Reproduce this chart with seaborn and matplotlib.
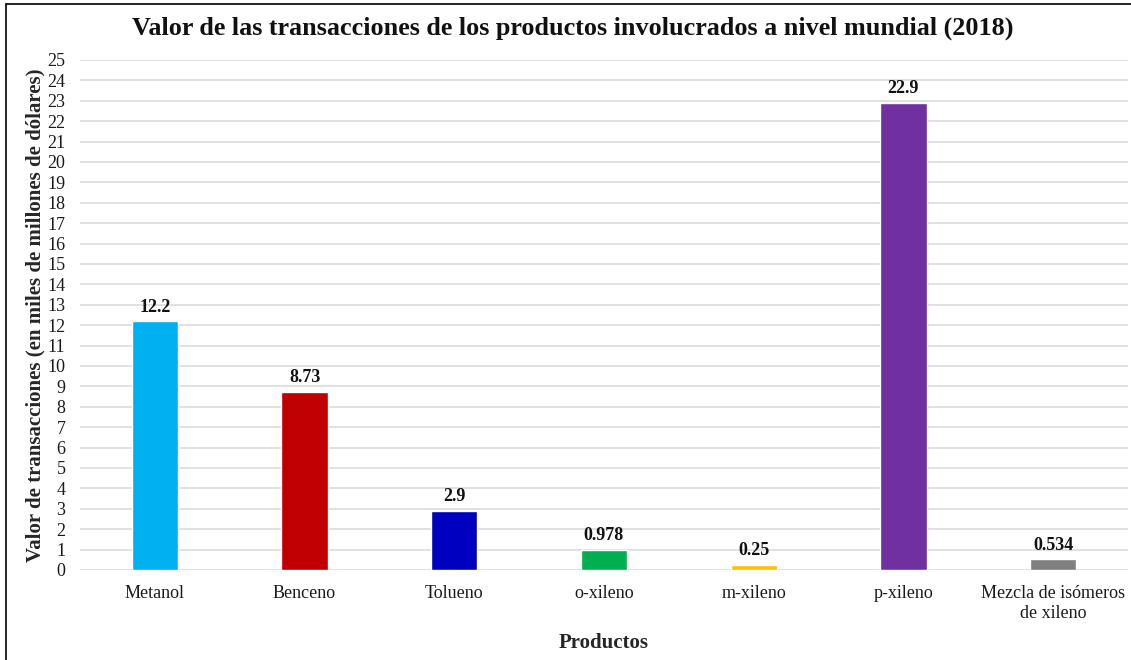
import matplotlib
matplotlib.use("Agg")
import matplotlib.pyplot as plt
import seaborn as sns
import pandas as pd
from matplotlib.lines import Line2D

productos = ["Metanol", "Benceno", "Tolueno", "o-xileno", "m-xileno", "p-xileno",
             "Mezcla de isómeros\nde xileno"]
valores = [12.2, 8.73, 2.9, 0.978, 0.25, 22.9, 0.534]
colores = ["#00B0F0", "#C00000", "#0000C0", "#00B050", "#FFC000", "#7030A0", "#808080"]
y_ticks = list(range(0, 26))

sns.set_theme(style="white")
plt.rcParams["font.family"] = ["Liberation Serif", "DejaVu Serif"]

df = pd.DataFrame({"Producto": productos, "Valor": valores})

fig = plt.figure(figsize=(11.31, 6.6), dpi=100)
ax = fig.add_axes([80 / 1131, 1 - 570 / 660, 1048 / 1131, 510 / 660])

sns.barplot(data=df, x="Producto", y="Valor", hue="Producto", palette=colores,
            width=0.31, dodge=False, legend=False, saturation=1, ax=ax)

ax.set_ylim(0, 25)
ax.set_yticks(y_ticks)
ax.set_yticklabels([str(t) for t in y_ticks], fontsize=13, color="#1a1a1a")
ax.tick_params(axis="x", labelsize=13, colors="#1a1a1a", pad=11, length=0)
ax.tick_params(axis="y", pad=10.5, length=0)
for lbl in ax.get_xticklabels():
    lbl.set_linespacing(1.2)
ax.yaxis.grid(True, color="#D9D9D9", linewidth=1.1)
ax.set_axisbelow(True)
for s in ax.spines.values():
    s.set_visible(False)

for cont in ax.containers:
    ax.bar_label(cont, labels=[f"{v:g}" for v in cont.datavalues], padding=4,
                 fontsize=13, fontweight="bold", color="#111111")

ax.set_xlabel("Productos", fontsize=15, fontweight="bold", labelpad=8)
ax.set_ylabel("Valor de transacciones (en miles de millones de dólares)",
              fontsize=15, fontweight="bold", labelpad=1.5)

fig.text(573 / 1131, 1 - 28 / 660, "Valor de las transacciones de los productos involucrados a nivel mundial (2018)",
         ha="center", va="center", fontsize=18.8, fontweight="bold", color="#111111")

# outer frame on the left and top edges
fig.add_artist(Line2D([6 / 1131, 6 / 1131], [0, 1 - 4 / 660], transform=fig.transFigure,
                      color="black", linewidth=1.2))
fig.add_artist(Line2D([6 / 1131, 1], [1 - 4 / 660, 1 - 4 / 660], transform=fig.transFigure,
                      color="black", linewidth=1.2))

fig.savefig("out.png", dpi=100)
